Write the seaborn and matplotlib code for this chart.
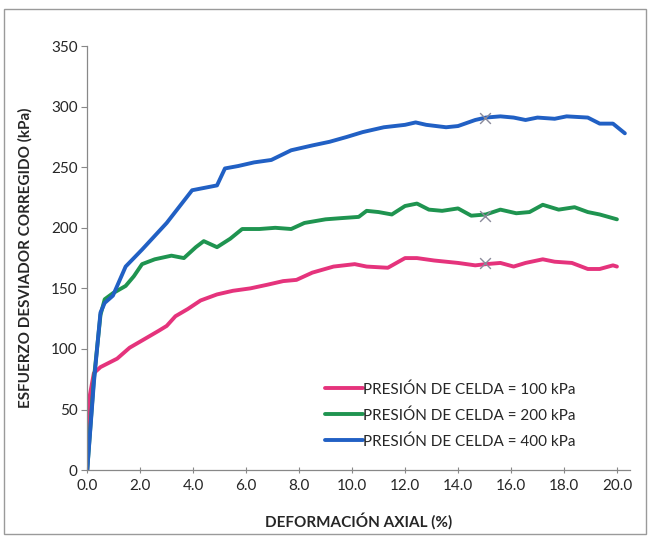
import matplotlib
matplotlib.use("Agg")
import matplotlib.pyplot as plt
import pandas as pd
import seaborn as sns
from matplotlib.patches import Rectangle

# deformacion axial (%) y esfuerzo desviador corregido (kPa)
x_100 = [0.0, 0.02, 0.1, 0.25, 0.5, 1.13, 1.6, 2.23, 2.7, 3.0, 3.33, 3.8, 4.28, 4.9, 5.5, 6.16,
         6.8, 7.4, 7.9, 8.5, 9.3, 10.1, 10.55, 11.35, 12.0, 12.45, 13.1, 14.0, 14.65, 15.05,
         15.6, 16.1, 16.55, 17.2, 17.65, 18.3, 18.9, 19.35, 19.85, 20.0]
y_100 = [0, 40, 62, 80, 85, 92, 101, 109, 115, 119, 127, 133, 140, 145, 148, 150,
         153, 156, 157, 163, 168, 170, 168, 167, 175, 175, 173, 171, 169, 170,
         171, 168, 171, 174, 172, 171, 166, 166, 169, 168]

x_200 = [0.0, 0.25, 0.5, 0.66, 0.97, 1.45, 1.76, 2.07, 2.55, 3.18, 3.65, 4.1, 4.4, 4.9, 5.4,
         5.85, 6.5, 7.1, 7.7, 8.2, 9.0, 9.6, 10.25, 10.55, 11.0, 11.5, 12.0, 12.45, 12.9,
         13.4, 14.0, 14.5, 15.05, 15.6, 16.2, 16.7, 17.2, 17.8, 18.4, 18.9, 19.35, 20.0]
y_200 = [0, 75, 128, 141, 146, 152, 160, 170, 174, 177, 175, 184, 189, 184, 191,
         199, 199, 200, 199, 204, 207, 208, 209, 214, 213, 211, 218, 220, 215,
         214, 216, 210, 211, 215, 212, 213, 219, 215, 217, 213, 211, 207]

x_400 = [0.0, 0.25, 0.5, 0.66, 0.97, 1.45, 2.07, 3.0, 3.96, 4.43, 4.9, 5.2, 5.7, 6.3, 6.95,
         7.7, 8.5, 9.15, 9.8, 10.4, 11.2, 12.0, 12.4, 12.8, 13.55, 14.0, 14.65, 15.05,
         15.6, 16.1, 16.55, 17.0, 17.65, 18.1, 18.9, 19.35, 19.85, 20.3]
y_400 = [0, 72, 130, 138, 144, 168, 182, 204, 231, 233, 235, 249, 251, 254, 256,
         264, 268, 271, 275, 279, 283, 285, 287, 285, 283, 284, 289, 291,
         292, 291, 289, 291, 290, 292, 291, 286, 286, 278]

labels = ["PRESIÓN DE CELDA = 100 kPa", "PRESIÓN DE CELDA = 200 kPa", "PRESIÓN DE CELDA = 400 kPa"]
colors = ["#e5337c", "#1f9450", "#2160c4"]

# puntos marcados con X (15 % de deformacion)
x_falla = [15.0, 15.0, 15.0]
y_falla = [171, 210, 291]

df = pd.concat([
    pd.DataFrame({"x": x_100, "y": y_100, "serie": labels[0]}),
    pd.DataFrame({"x": x_200, "y": y_200, "serie": labels[1]}),
    pd.DataFrame({"x": x_400, "y": y_400, "serie": labels[2]}),
])

sns.set_style("ticks")
plt.rcParams['font.family'] = ['Lato', 'DejaVu Sans']
plt.rcParams['lines.solid_joinstyle'] = 'round'
plt.rcParams['lines.solid_capstyle'] = 'round'

fig = plt.figure(figsize=(6.51, 5.36), dpi=100)
ax = fig.add_axes([0.134, 0.123, 0.834, 0.791])

sns.lineplot(data=df, x="x", y="y", hue="serie", palette=dict(zip(labels, colors)),
             sort=False, estimator=None, linewidth=2.8, ax=ax)
ax.scatter(x_falla, y_falla, marker="x", s=60, color="#8a8a9a", linewidths=1.0, zorder=5)

ax.set_xlim(0, 20.5)
ax.set_ylim(0, 350)
ax.set_xticks([i * 2.0 for i in range(11)])
ax.set_xticklabels(["%.1f" % (i * 2.0) for i in range(11)])
ax.set_yticks(range(0, 351, 50))
ax.tick_params(axis="x", direction="inout", length=5, width=0.8, color="#888888", labelsize=11, pad=4)
ax.tick_params(axis="y", direction="out", length=4, width=0.8, color="#888888", labelsize=11, pad=3)
for s in ["top", "right"]:
    ax.spines[s].set_visible(False)
for s in ["left", "bottom"]:
    ax.spines[s].set_color("#888888")
    ax.spines[s].set_linewidth(0.9)

ax.set_xlabel("DEFORMACIÓN AXIAL (%)", fontsize=11, fontweight="bold", labelpad=14)
ax.set_ylabel("ESFUERZO DESVIADOR CORREGIDO (kPa)", fontsize=11, fontweight="bold", labelpad=13)

ax.legend(loc="lower right", bbox_to_anchor=(0.925, 0.018), frameon=False, fontsize=11,
          handlelength=2.5, handletextpad=0.0, labelspacing=0.75)

fig.add_artist(Rectangle((0.006, 0.004), 0.986, 0.98, transform=fig.transFigure,
                         fill=False, edgecolor="#9a9a9a", linewidth=1.0))

fig.savefig("out.png", dpi=100)
